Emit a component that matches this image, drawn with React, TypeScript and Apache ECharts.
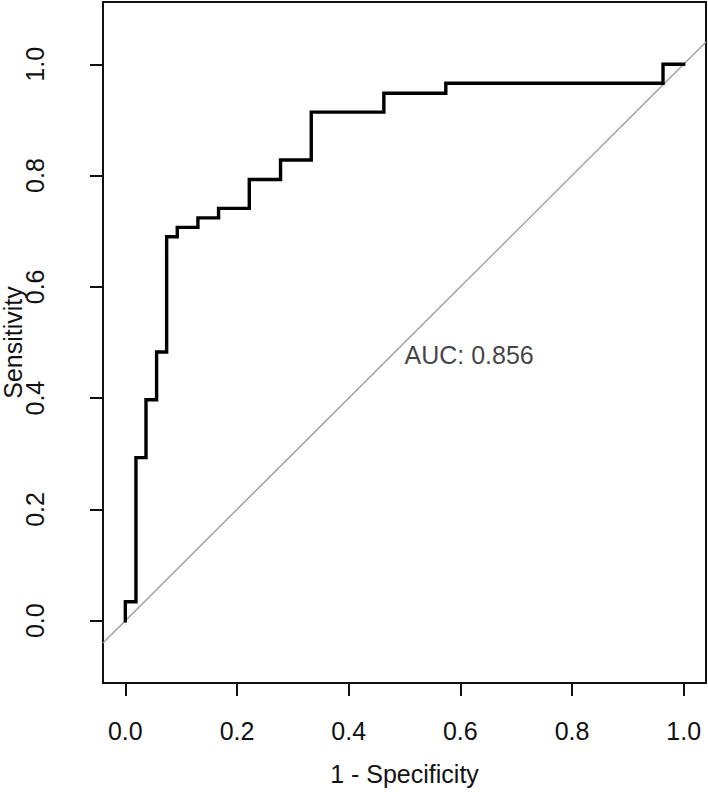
import React, { useEffect, useRef } from "react";
import * as echarts from "echarts";

// ROC curve corners: 1 - specificity (x) and sensitivity (y)
const fpr = [
  0, 0, 0.019, 0.019, 0.037, 0.037, 0.056, 0.056, 0.074, 0.074,
  0.093, 0.093, 0.13, 0.13, 0.167, 0.167, 0.222, 0.222, 0.278, 0.278,
  0.333, 0.333, 0.463, 0.463, 0.574, 0.574, 0.963, 0.963, 1,
];
const tpr = [
  0, 0.034, 0.034, 0.293, 0.293, 0.397, 0.397, 0.483, 0.483, 0.69,
  0.69, 0.707, 0.707, 0.724, 0.724, 0.741, 0.741, 0.793, 0.793, 0.828,
  0.828, 0.914, 0.914, 0.948, 0.948, 0.966, 0.966, 1, 1,
];
// chance diagonal (y = x), end points at the plot edges
const chanceX = [-0.04, 1.04];
const chanceY = [-0.04, 1.04];

const tickValues = [0, 0.2, 0.4, 0.6, 0.8, 1.0];
const aucLabel = "AUC: 0.856";
const aucPos = [0.5, 0.5];
const xTitle = "1 - Specificity";
const yTitle = "Sensitivity";

const FONT = "'Liberation Sans', Arial, sans-serif";
const INK = "#111111";
const FS = 25;

export default function App() {
  const ref = useRef<HTMLDivElement>(null);
  useEffect(() => {
    if (!ref.current) return;
    const chart = echarts.init(ref.current, null, { renderer: "svg" });
    const axisCommon = {
      type: "value" as const,
      axisLine: { show: false, onZero: false },
      splitLine: { show: false },
      axisTick: {
        show: true,
        customValues: tickValues,
        length: 13,
        lineStyle: { color: INK, width: 2 },
      },
      nameLocation: "middle" as const,
      nameMoveOverlap: false,
      nameTextStyle: { fontSize: FS, color: INK, fontFamily: FONT },
    };
    chart.setOption({
      animation: false,
      backgroundColor: "#ffffff",
      grid: {
        left: 103,
        right: 2,
        top: 2,
        bottom: 109,
        show: true,
        borderColor: INK,
        borderWidth: 2,
        backgroundColor: "transparent",
        containLabel: false,
        outerBoundsMode: "none",
      },
      xAxis: {
        ...axisCommon,
        min: -0.04,
        max: 1.04,
        name: xTitle,
        nameGap: 78,
        axisLabel: {
          customValues: tickValues,
          formatter: (v: number) => v.toFixed(1),
          fontSize: FS,
          color: INK,
          fontFamily: FONT,
          margin: 35,
        },
      },
      yAxis: {
        ...axisCommon,
        min: -0.112,
        max: 1.112,
        name: yTitle,
        nameGap: 78,
        nameRotate: 90,
        axisLabel: {
          customValues: tickValues,
          formatter: (v: number) => v.toFixed(1),
          fontSize: FS,
          color: INK,
          fontFamily: FONT,
          rotate: 90,
          margin: 56,
        },
      },
      series: [
        {
          type: "line",
          name: "chance",
          data: chanceX.map((x, i) => [x, chanceY[i]]),
          symbol: "none",
          lineStyle: { color: "#9a9a9a", width: 1.3 },
          z: 1,
          silent: true,
        },
        {
          type: "line",
          name: "ROC",
          data: fpr.map((x, i) => [x, tpr[i]]),
          symbol: "none",
          lineStyle: { color: "#000000", width: 3.4, cap: "square", join: "miter" },
          z: 3,
          silent: true,
        },
        {
          type: "scatter",
          name: "auc",
          data: [aucPos],
          symbolSize: 0,
          silent: true,
          label: {
            show: true,
            position: [0, 0],
            align: "left",
            verticalAlign: "top",
            formatter: aucLabel,
            fontSize: FS,
            color: INK,
            fontFamily: FONT,
          },
          z: 4,
        },
      ],
    });
    return () => chart.dispose();
  }, []);
  return (
    <div
      ref={ref}
      style={{ position: "fixed", left: 0, top: 0, width: 708, height: 792, background: "#fff" }}
    />
  );
}
